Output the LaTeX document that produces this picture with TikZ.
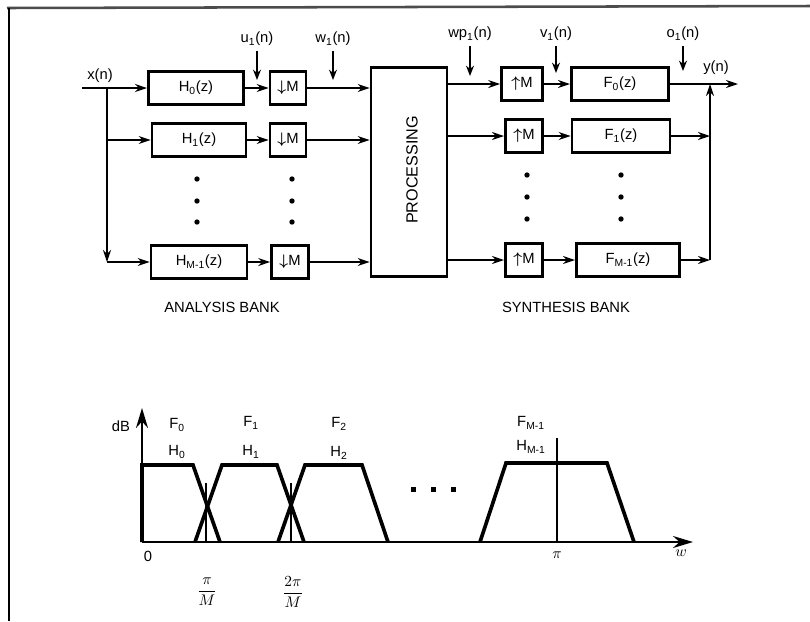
\documentclass[tikz,border=0pt]{standalone}
\usepackage{amsmath}
\usepackage{fontspec}
\setmainfont{Liberation Sans}
\usetikzlibrary{arrows.meta}
\tikzset{blk/.style={draw,line width=2pt,minimum height=0.83cm,inner sep=1pt},flow/.style={-{Stealth[length=3mm,width=2mm]},line width=0.9pt},tap/.style={-{Stealth[length=2.6mm,width=2mm]},line width=1pt},band/.style={line width=2.6pt,line join=miter},axis/.style={-{Stealth[length=5mm,width=3mm]},line width=1.4pt}}

\begin{document}
\begin{tikzpicture}[x=0.025cm,y=-0.025cm,font=\fontsize{10.5}{12}\selectfont]
\useasboundingbox (0,0) rectangle (810,621);
\draw[gray!60!black,line width=1.8pt] (7,8) -- (810,6);
\draw[line width=1pt] (9,8) -- (9,621);
% analysis bank
\coordinate (xin) at (82,88);
\coordinate (br) at (107,88);
\node (xlab) at (100,76) {x(n)};
\node[blk,minimum width=2.38cm] (h0) at (196,88) {H\textsubscript{0}(z)};
\node[blk,minimum width=2.35cm] (h1) at (199,140) {H\textsubscript{1}(z)};
\node[blk,minimum width=2.4cm] (hm) at (199,262) {H\textsubscript{M-1}(z)};
\node[blk,minimum width=0.9cm] (d0) at (288,88) {$\boldsymbol{\downarrow}$M};
\node[blk,minimum width=0.9cm] (d1) at (288,140) {$\boldsymbol{\downarrow}$M};
\node[blk,minimum width=0.92cm] (dm) at (290,262) {$\boldsymbol{\downarrow}$M};
\node[blk,minimum width=1.9cm,minimum height=5.23cm] (proc) at (409,172) {};
\node[rotate=90,font=\fontsize{11.5}{13}\selectfont] (ptxt) at (412,170) {PROCESSING};
\draw[flow] (xin) -- (h0);
\draw[flow] (br) -- (br |- hm);
\draw[flow] (br |- hm) -- (hm);
\draw[flow] (br |- h1) -- (h1);
\draw[flow] (h0) -- (d0);
\draw[flow] (h1) -- (d1);
\draw[flow] (hm) -- (dm);
\draw[flow] (d0) -- (d0 -| proc.west);
\draw[flow] (d1) -- (d1 -| proc.west);
\draw[flow] (dm) -- (dm -| proc.west);
\foreach \y in {179,201,222} {
  \fill (197,\y) circle (1.9pt);
  \fill (292,\y) circle (1.9pt);
}
\node (u1) at (257,39) {u\textsubscript{1}(n)};
\coordinate (u1e) at (257,80);
\draw[tap] (u1) -- (u1e);
\node (w1) at (333,39) {w\textsubscript{1}(n)};
\coordinate (w1e) at (333,80);
\draw[tap] (w1) -- (w1e);
% synthesis bank
\node[blk,minimum width=1.02cm] (up0) at (522,84) {$\boldsymbol{\uparrow}$M};
\node[blk,minimum width=0.93cm] (up1) at (524,136) {$\boldsymbol{\uparrow}$M};
\node[blk,minimum width=0.93cm] (upm) at (524,260) {$\boldsymbol{\uparrow}$M};
\node[blk,minimum width=2.43cm] (f0) at (620,84) {F\textsubscript{0}(z)};
\node[blk,minimum width=2.45cm] (f1) at (621,136) {F\textsubscript{1}(z)};
\node[blk,minimum width=2.58cm] (fm) at (628,260) {F\textsubscript{M-1}(z)};
\draw[flow] (proc.east |- up0) -- (up0);
\draw[flow] (proc.east |- up1) -- (up1);
\draw[flow] (proc.east |- upm) -- (upm);
\draw[flow] (up0) -- (f0);
\draw[flow] (up1) -- (f1);
\draw[flow] (upm) -- (fm);
\coordinate (sum) at (710,84);
\coordinate (yout) at (738,84);
\node (ylab) at (716,68) {y(n)};
\draw[flow] (f0) -- (yout);
\draw[flow] (f1) -- (sum |- f1);
\draw[flow] (fm) -- (sum |- fm);
\draw[flow] (sum |- fm) -- (sum);
\foreach \y in {175,197,219} {
  \fill (527,\y) circle (1.9pt);
  \fill (621,\y) circle (1.9pt);
}
\node (wp1) at (470,34) {wp\textsubscript{1}(n)};
\coordinate (wp1e) at (470,76);
\draw[tap] (wp1) -- (wp1e);
\node (v1) at (556,34) {v\textsubscript{1}(n)};
\coordinate (v1e) at (556,73);
\draw[tap] (v1) -- (v1e);
\node (o1) at (683,34) {o\textsubscript{1}(n)};
\coordinate (o1e) at (683,71);
\draw[tap] (o1) -- (o1e);
\node (anl) at (222,307) {ANALYSIS BANK};
\node (syn) at (566,307) {SYNTHESIS BANK};
% band responses
\coordinate (orig) at (142,542);
\coordinate (ytop) at (142,408);
\coordinate (xend) at (693,542);
\draw[axis] (orig) -- (ytop);
\draw[axis] (orig) -- (xend);
\node (db) at (121,426) {dB};
\node (zero) at (148,556) {0};
\node (pi) at (557,555) {$\pi$};
\node (wlab) at (681,553) {$w$};
\draw[band] (orig) -- (142,465) -- (193,465) -- (220,542);
\draw[band] (195,542) -- (222,465) -- (277,465) -- (304,542);
\draw[band] (278,542) -- (305,465) -- (362,465) -- (388,542);
\draw[band] (480,542) -- (506,463) -- (607,463) -- (634,542);
\draw[line width=0.8pt] (206,542) -- (206,483);
\draw[line width=0.8pt] (291,542) -- (291,483);
\draw[line width=0.8pt] (557,542) -- (557,438);
\foreach \x in {413,433,453} \fill (\x-2.5,486.5) rectangle ++(5,5);
\node (f0l) at (177,425) {F\textsubscript{0}};
\node (h0l) at (177,452) {H\textsubscript{0}};
\node (f1l) at (251,423) {F\textsubscript{1}};
\node (h1l) at (251,452) {H\textsubscript{1}};
\node (f2l) at (339,424) {F\textsubscript{2}};
\node (h2l) at (339,453) {H\textsubscript{2}};
\node (fml) at (531,423) {F\textsubscript{M-1}};
\node (hml) at (531,447) {H\textsubscript{M-1}};
\node (pim) at (207,592) {$\displaystyle\frac{\pi}{M}$};
\node (pim2) at (293,592) {$\displaystyle\frac{2\pi}{M}$};
\end{tikzpicture}
\end{document}
